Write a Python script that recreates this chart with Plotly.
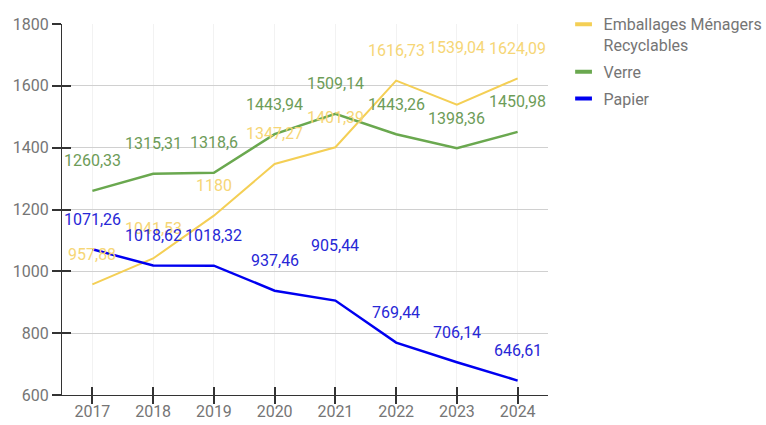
import plotly.graph_objects as go

years = [2017, 2018, 2019, 2020, 2021, 2022, 2023, 2024]
emballages = [957.88, 1041.53, 1180, 1347.27, 1401.39, 1616.73, 1539.04, 1624.09]
verre = [1260.33, 1315.31, 1318.6, 1443.94, 1509.14, 1443.26, 1398.36, 1450.98]
papier = [1071.26, 1018.62, 1018.32, 937.46, 905.44, 769.44, 706.14, 646.61]
y_ticks = [600, 800, 1000, 1200, 1400, 1600, 1800]

series = [
    ("Emballages Ménagers<br>Recyclables", emballages, "#f4cf55", "#f6d676", 2),
    ("Verre", verre, "#6aa84f", "#6d9c58", 2.5),
    ("Papier", papier, "#0000f0", "#2727d6", 2.5),
]
# extra label lift (px) for labels that avoid collisions
extra_lift = {("Emballages Ménagers<br>Recyclables", 6): 27, ("Papier", 4): 25}
FS = 16


def fmt(v):
    return f"{v:g}".replace(".", ",")


fig = go.Figure()
annotations = []
for i, (name, vals, col, lcol, w) in enumerate(series):
    fig.add_trace(go.Scatter(x=years, y=vals, mode="lines", line=dict(color=col, width=w),
                             showlegend=False, hoverinfo="skip"))
    fig.add_trace(go.Scatter(x=[None], y=[None], mode="markers", name=name,
                             legendgroup=f"g{i}",
                             marker=dict(symbol="line-ew-open", size=12, color=col,
                                         line=dict(color=col, width=4))))
    for j, (x, v) in enumerate(zip(years, vals)):
        annotations.append(dict(x=x, y=v, xref="x", yref="y", text=fmt(v), showarrow=False,
                                yanchor="middle", yshift=30 + extra_lift.get((name, j), 0),
                                font=dict(color=lcol, size=FS, family="Roboto")))

# dummy trace for the overlay axes (inside half of crossing ticks)
fig.add_trace(go.Scatter(x=[None], y=[None], xaxis="x2", yaxis="y2", showlegend=False,
                         hoverinfo="skip"))

fig.update_layout(
    width=766, height=425,
    margin=dict(l=62, r=218, t=24, b=30, autoexpand=False),
    paper_bgcolor="white", plot_bgcolor="white",
    font=dict(family="Roboto", size=FS, color="#757575"),
    annotations=annotations,
    legend=dict(x=1.032, y=1.045, xanchor="left", yanchor="top", valign="top",
                font=dict(size=FS, color="#757575", family="Roboto"),
                itemwidth=30, tracegroupgap=3, traceorder="grouped"),
    xaxis=dict(range=[2016.5, 2024.5], tickvals=years, ticktext=[str(y) for y in years],
               showgrid=True, gridcolor="#f2f2f2", zeroline=False,
               showline=True, linecolor="#333333", linewidth=1,
               ticks="outside", ticklen=8, tickcolor="#333333", tickwidth=1.5,
               ticklabelstandoff=-6),
    yaxis=dict(range=[600, 1800], tickvals=y_ticks, showgrid=True, gridcolor="#d0d0d0",
               zeroline=False, showline=True, linecolor="#333333", linewidth=1,
               ticks="outside", ticklen=9, tickcolor="#333333", tickwidth=1.5),
    xaxis2=dict(overlaying="x", anchor="y2", range=[2016.5, 2024.5], tickvals=years,
                showticklabels=False, showgrid=False, zeroline=False, showline=False,
                ticks="inside", ticklen=8, tickcolor="#333333", tickwidth=1.5, side="bottom"),
    yaxis2=dict(overlaying="y", anchor="x2", range=[600, 1800], tickvals=y_ticks,
                showticklabels=False, showgrid=False, zeroline=False, showline=False,
                ticks="inside", ticklen=9, tickcolor="#333333", tickwidth=1.5, side="left"),
)

fig.write_html("out.html", config={"displayModeBar": False},
               post_script="document.body.style.margin='0';")
